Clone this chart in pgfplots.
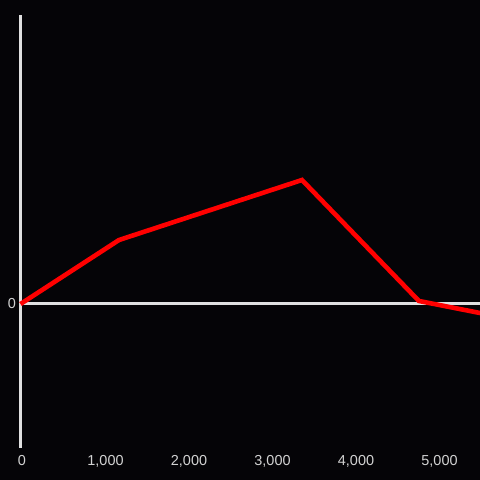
\documentclass[border=0pt]{standalone}
\usepackage{pgfplots}
\pgfplotsset{compat=1.18}
\usepackage{fontspec}
\setmainfont{Liberation Sans}
\definecolor{bg}{HTML}{050407}
\definecolor{axln}{HTML}{E0E0E0}
\definecolor{txt}{HTML}{D2D2D2}
\begin{document}
\begin{tikzpicture}
\fill[bg] (0,0) rectangle (480bp,480bp);
\begin{axis}[
  at={(20.5bp,32bp)}, anchor=south west,
  scale only axis, width=459.5bp, height=433bp,
  xmin=0, xmax=5503, ymin=-144, ymax=289,
  axis lines*=left,
  x axis line style={draw=none},
  y axis line style={draw=axln, line width=3bp},
  xtick={0,1000,2000,3000,4000,5000},
  xticklabels={0,{1,000},{2,000},{3,000},{4,000},{5,000}},
  ytick={0}, yticklabels={0},
  major tick length=0pt,
  tick style={draw=none},
  ticklabel style={font=\fontsize{14.5}{16}\selectfont, text=txt},
  xticklabel style={yshift=-4bp, xshift=1.5bp},
  yticklabel style={xshift=-1bp},
  /pgf/number format/assume math mode=true,
  clip=false,
]
\draw[axln, line width=3bp] (axis cs:0,0) -- (axis cs:5600,0);
\addplot[red, line width=4.6bp, line join=miter] coordinates {
  (0,0) (1180,64) (3371,124) (4772,3) (5503,-9) (5700,-13)
};
\end{axis}
\pgfresetboundingbox
\useasboundingbox (0,0) rectangle (480bp,480bp);
\end{tikzpicture}
\end{document}
